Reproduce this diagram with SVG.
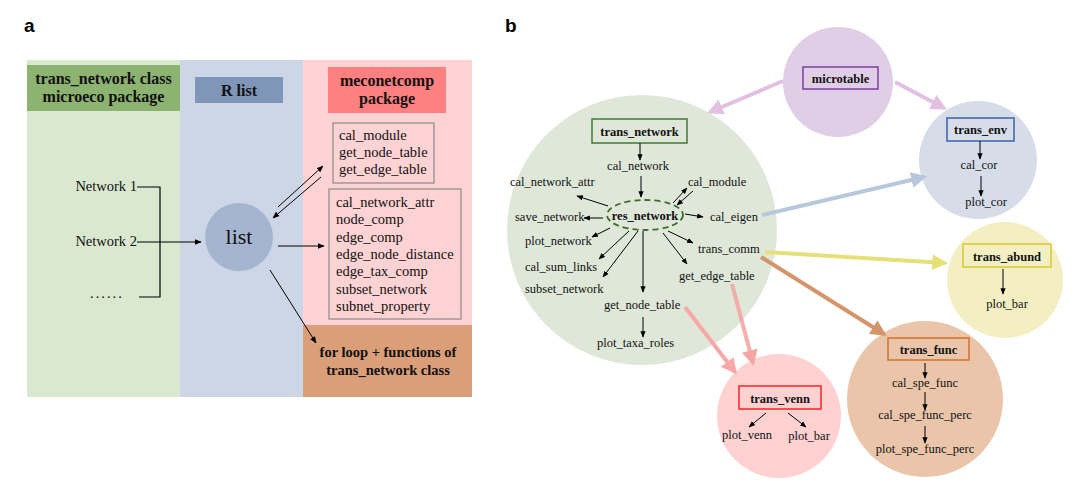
<svg xmlns="http://www.w3.org/2000/svg" width="1080" height="490" viewBox="0 0 1080 490">
<defs>
<style>
.t{font-family:"Liberation Serif","Times New Roman",serif;fill:#111}
.a14{font-size:14.5px}
.b12{font-size:12.5px}
.bold{font-weight:bold}
.lbl{font-family:"Liberation Sans",Arial,sans-serif;font-weight:bold;font-size:19px;fill:#000}
.ln{stroke:#000;stroke-width:1.2;fill:none}
.thin{stroke:#000;stroke-width:1;fill:none}
.fat{stroke-width:4;fill:none}
</style>
<marker id="ah" viewBox="0 0 10 10" refX="9" refY="5" markerWidth="7" markerHeight="7" markerUnits="userSpaceOnUse" orient="auto"><path d="M0,1 L10,5 L0,9 Z" fill="#000"/></marker>
<marker id="ahs" viewBox="0 0 10 10" refX="9" refY="5" markerWidth="6.5" markerHeight="6.5" markerUnits="userSpaceOnUse" orient="auto"><path d="M0,1 L10,5 L0,9 Z" fill="#000"/></marker>
<marker id="fh" viewBox="0 0 10 10" refX="8" refY="5" markerWidth="4" markerHeight="4" orient="auto"><path d="M0,0 L10,5 L0,10 Z" fill="context-stroke"/></marker>
</defs>

<text class="lbl" x="24" y="32">a</text>
<text class="lbl" x="505" y="32">b</text>

<!-- Panel a backgrounds -->
<g id="col-green">
<rect x="27" y="60" width="153" height="337" fill="#d9e8cf"/>
<rect x="27" y="65" width="153" height="46" fill="#8db371"/>
<text class="t bold" x="103.5" y="84" text-anchor="middle" font-size="16">trans_network class</text>
<text class="t bold" x="103.5" y="102" text-anchor="middle" font-size="16">microeco package</text>
</g>
<g id="col-blue">
<rect x="180" y="60" width="123" height="337" fill="#cdd6e6"/>
<rect x="195" y="77" width="88" height="26" fill="#7f96b8"/>
<text class="t bold" x="239" y="95.5" text-anchor="middle" font-size="16">R list</text>
</g>
<g id="col-pink">
<rect x="303" y="60" width="169" height="265" fill="#ffd3d3"/>
<rect x="328" y="67" width="118" height="46" fill="#ff8080"/>
<text class="t bold" x="387" y="86" text-anchor="middle" font-size="16">meconetcomp</text>
<text class="t bold" x="387" y="104" text-anchor="middle" font-size="16">package</text>
</g>
<g id="box-1">
<rect x="333" y="123" width="101" height="60" fill="none" stroke="#8a8a8a" stroke-width="1.2"/>
<text class="t a14" x="339" y="140">cal_module</text>
<text class="t a14" x="339" y="157">get_node_table</text>
<text class="t a14" x="339" y="174">get_edge_table</text>
</g>
<g id="box-2">
<rect x="329" y="189" width="132" height="130" fill="none" stroke="#8a8a8a" stroke-width="1.2"/>
<text class="t a14" x="336" y="207">cal_network_attr</text>
<text class="t a14" x="336" y="224">node_comp</text>
<text class="t a14" x="336" y="241.5">edge_comp</text>
<text class="t a14" x="336" y="259">edge_node_distance</text>
<text class="t a14" x="336" y="276">edge_tax_comp</text>
<text class="t a14" x="336" y="293.5">subset_network</text>
<text class="t a14" x="336" y="311">subnet_property</text>
</g>
<g id="box-loop">
<rect x="303" y="325" width="169" height="72" fill="#da9f79"/>
<text class="t bold" x="388" y="357" text-anchor="middle" font-size="14.5">for loop + functions of</text>
<text class="t bold" x="388" y="374.5" text-anchor="middle" font-size="14.5">trans_network class</text>
</g>
<g id="networks">
<text class="t a14" x="137" y="191" text-anchor="end">Network 1</text>
<text class="t a14" x="137" y="246" text-anchor="end">Network 2</text>
<text class="t a14" x="90" y="298" letter-spacing="2">......</text>
</g>
<g id="list">
<circle cx="239" cy="237" r="34" fill="#a5b5cf"/>
<text class="t" x="239" y="244" text-anchor="middle" font-size="22">list</text>
</g>

<g id="connectors-a">
<path class="ln" d="M137,187 H160 V297 H139"/>
<line class="ln" x1="137" y1="242" x2="201" y2="242" marker-end="url(#ah)"/>
<line class="thin" x1="278" y1="207" x2="323" y2="166" marker-end="url(#ah)"/>
<line class="thin" x1="321" y1="177" x2="273" y2="218" marker-end="url(#ah)"/>
<line class="thin" x1="278" y1="246" x2="324" y2="246" marker-end="url(#ah)"/>
<line class="thin" x1="270" y1="270" x2="316" y2="343" marker-end="url(#ah)"/>
</g>

<!-- Panel b circles -->
<g id="trans_network">
<circle cx="642" cy="230" r="135" fill="#dfe7d8"/>
<rect x="592" y="119" width="95" height="24" fill="none" stroke="#3d7d2e" stroke-width="1.5"/>
<text class="t b12 bold" x="639.5" y="135.5" text-anchor="middle" font-size="13">trans_network</text>
<text class="t b12" x="638" y="170" text-anchor="middle">cal_network</text>
<ellipse cx="645" cy="215" rx="38" ry="15" fill="none" stroke="#3d6b2e" stroke-width="1.8" stroke-dasharray="6,4"/>
<text class="t b12 bold" x="645" y="219.5" text-anchor="middle" font-size="13">res_network</text>
<text class="t b12" x="510" y="186">cal_network_attr</text>
<text class="t b12" x="688" y="186">cal_module</text>
<text class="t b12" x="515" y="221">save_network</text>
<text class="t b12" x="710" y="221">cal_eigen</text>
<text class="t b12" x="525" y="245">plot_network</text>
<text class="t b12" x="698" y="253">trans_comm</text>
<text class="t b12" x="525" y="271">cal_sum_links</text>
<text class="t b12" x="679" y="280">get_edge_table</text>
<text class="t b12" x="525" y="293">subset_network</text>
<text class="t b12" x="604" y="309">get_node_table</text>
<text class="t b12" x="597" y="347">plot_taxa_roles</text>
</g>
<g id="microtable">
<circle cx="838" cy="82" r="55" fill="#e0cde6"/>
<rect x="803" y="67" width="75" height="22" fill="none" stroke="#7a40a0" stroke-width="1.5"/>
<text class="t b12 bold" x="840.5" y="82.5" text-anchor="middle" font-size="13">microtable</text>
</g>
<g id="trans_env">
<circle cx="978" cy="160" r="59" fill="#d6dde9"/>
<rect x="947" y="118" width="67" height="23" fill="none" stroke="#3a62aa" stroke-width="1.5"/>
<text class="t b12 bold" x="980.5" y="134" text-anchor="middle" font-size="13">trans_env</text>
<text class="t b12" x="979" y="169" text-anchor="middle">cal_cor</text>
<text class="t b12" x="986" y="206" text-anchor="middle">plot_cor</text>
</g>
<g id="trans_abund">
<circle cx="1005" cy="280" r="58" fill="#f3efc2"/>
<rect x="963" y="244" width="88" height="23" fill="none" stroke="#d8c830" stroke-width="1.5"/>
<text class="t b12 bold" x="1007" y="260.5" text-anchor="middle" font-size="13">trans_abund</text>
<text class="t b12" x="1007" y="308" text-anchor="middle">plot_bar</text>
</g>
<g id="trans_func">
<circle cx="925" cy="399" r="78" fill="#eac5a9"/>
<rect x="888" y="338" width="81" height="22" fill="none" stroke="#d07030" stroke-width="1.5"/>
<text class="t b12 bold" x="928.5" y="354" text-anchor="middle" font-size="13">trans_func</text>
<text class="t b12" x="925" y="387" text-anchor="middle">cal_spe_func</text>
<text class="t b12" x="925" y="419" text-anchor="middle">cal_spe_func_perc</text>
<text class="t b12" x="925" y="453" text-anchor="middle">plot_spe_func_perc</text>
</g>
<g id="trans_venn">
<circle cx="779" cy="416" r="62" fill="#ffd1d1"/>
<rect x="739" y="386" width="82" height="23" fill="none" stroke="#ff2020" stroke-width="1.5"/>
<text class="t b12 bold" x="780" y="402.5" text-anchor="middle" font-size="13">trans_venn</text>
<text class="t b12" x="747" y="439" text-anchor="middle">plot_venn</text>
<text class="t b12" x="809" y="440" text-anchor="middle">plot_bar</text>
</g>

<g id="connectors-b">
<line class="fat" x1="783" y1="81" x2="710" y2="112" stroke="#e2c0e2" marker-end="url(#fh)"/>
<line class="fat" x1="895" y1="82" x2="944" y2="108" stroke="#e2c0e2" marker-end="url(#fh)"/>
<line class="fat" x1="762" y1="215" x2="924" y2="177" stroke="#b8c8dc" marker-end="url(#fh)"/>
<line class="fat" x1="765" y1="252" x2="945" y2="263" stroke="#e6e07a" marker-end="url(#fh)"/>
<line class="fat" x1="761" y1="257" x2="884" y2="334" stroke="#d4956a" marker-end="url(#fh)"/>
<line class="fat" x1="685" y1="307" x2="735" y2="372" stroke="#f8a8a8" marker-end="url(#fh)"/>
<line class="fat" x1="732" y1="284" x2="753" y2="363" stroke="#f5a5a5" stroke-opacity="0.9" marker-end="url(#fh)"/>
<line class="thin" x1="640" y1="143" x2="640" y2="160" marker-end="url(#ahs)"/>
<line class="thin" x1="641" y1="176" x2="641" y2="197" marker-end="url(#ahs)"/>
<line class="thin" x1="608" y1="206" x2="577" y2="196" marker-end="url(#ahs)"/>
<line class="thin" x1="673" y1="203" x2="687" y2="188" marker-end="url(#ahs)"/>
<line class="thin" x1="693" y1="191" x2="677" y2="205" marker-end="url(#ahs)"/>
<line class="thin" x1="603" y1="218" x2="584" y2="218" marker-end="url(#ahs)"/>
<line class="thin" x1="685" y1="214" x2="703" y2="217" marker-end="url(#ahs)"/>
<line class="thin" x1="610" y1="228" x2="592" y2="237" marker-end="url(#ahs)"/>
<line class="thin" x1="629" y1="231" x2="599" y2="259" marker-end="url(#ahs)"/>
<line class="thin" x1="638" y1="231" x2="603" y2="277" marker-end="url(#ahs)"/>
<line class="thin" x1="643" y1="231" x2="643" y2="292" marker-end="url(#ahs)"/>
<line class="thin" x1="663" y1="233" x2="687" y2="264" marker-end="url(#ahs)"/>
<line class="thin" x1="668" y1="231" x2="693" y2="243" marker-end="url(#ahs)"/>
<line class="thin" x1="643" y1="317" x2="643" y2="337" marker-end="url(#ahs)"/>
<line class="thin" x1="980" y1="141" x2="980" y2="159" marker-end="url(#ahs)"/>
<line class="thin" x1="981" y1="176" x2="981" y2="196" marker-end="url(#ahs)"/>
<line class="thin" x1="1003" y1="269" x2="1003" y2="294" marker-end="url(#ahs)"/>
<line class="thin" x1="925" y1="363" x2="925" y2="378" marker-end="url(#ahs)"/>
<line class="thin" x1="925" y1="392" x2="925" y2="410" marker-end="url(#ahs)"/>
<line class="thin" x1="925" y1="426" x2="925" y2="443" marker-end="url(#ahs)"/>
<line class="thin" x1="766" y1="413" x2="749" y2="427" marker-end="url(#ahs)"/>
<line class="thin" x1="788" y1="413" x2="806" y2="427" marker-end="url(#ahs)"/>
</g>
</svg>
